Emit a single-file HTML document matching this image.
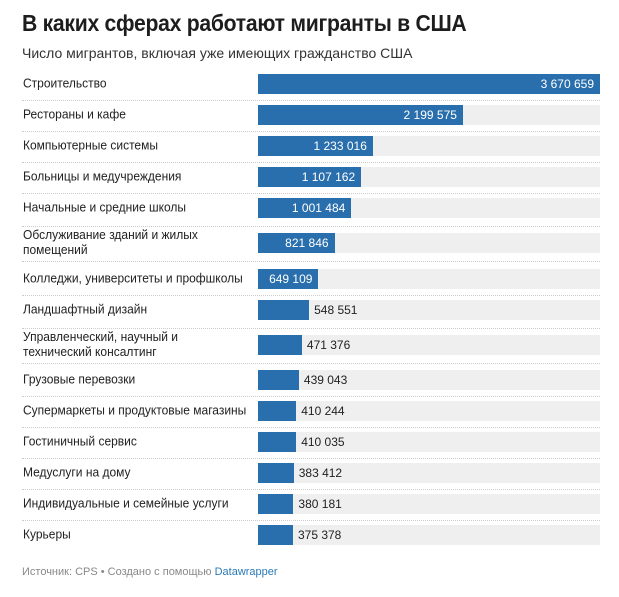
<!DOCTYPE html>
<html><head><meta charset="utf-8"><style>
body{margin:0;background:#fff;width:619px;height:597px;position:relative;font-family:"Liberation Sans","DejaVu Sans",sans-serif;color:#1d1d1d;overflow:hidden}
.t{position:absolute;left:22px;top:10px;font-size:23px;font-weight:bold;letter-spacing:-0.3px;transform:scaleX(0.92);transform-origin:left top;white-space:nowrap}
.s{position:absolute;left:22px;top:45px;font-size:14px;color:#333}
.l{position:absolute;left:23px;font-size:12.5px;line-height:15px;transform:translateY(-50%) scaleX(0.96);transform-origin:left center;color:#222;white-space:nowrap}
.tr{position:absolute;left:258px;width:342px;height:20px;background:#efefef}
.b{position:absolute;left:258px;height:20px;background:#2a6fad}
.v{position:absolute;font-size:12px;line-height:20px}
.sep{position:absolute;left:22px;width:578px;border-top:1px dotted #ccc}
.f{position:absolute;left:22px;top:566px;font-size:11px;color:#888}
.f span{color:#2a7ab8}
</style></head><body>
<div class="t">В каких сферах работают мигранты в США</div>
<div class="s">Число мигрантов, включая уже имеющих гражданство США</div>
<div id="c"></div>
<div class="f">Источник: CPS • Создано с помощью <span>Datawrapper</span></div>
<script>
var d=[["Строительство",3670659,84],["Рестораны и кафе",2199575,115],["Компьютерные системы",1233016,146],["Больницы и медучреждения",1107162,177],["Начальные и средние школы",1001484,208],["Обслуживание зданий и жилых<br>помещений",821846,243],["Колледжи, университеты и профшколы",649109,279],["Ландшафтный дизайн",548551,310],["Управленческий, научный и<br>технический консалтинг",471376,345],["Грузовые перевозки",439043,380],["Супермаркеты и продуктовые магазины",410244,411],["Гостиничный сервис",410035,442],["Медуслуги на дому",383412,473],["Индивидуальные и семейные услуги",380181,504],["Курьеры",375378,535]];
var h="";
function f(n){return String(n).replace(/\B(?=(\d{3})+(?!\d))/g," ");}
d.forEach(function(r,i){var w=r[1]/3670659*342,c=r[2];
h+='<div class="l" style="top:'+c+'px">'+r[0]+'</div>';
h+='<div class="tr" style="top:'+(c-10)+'px"></div>';
h+='<div class="b" style="top:'+(c-10)+'px;width:'+w+'px"></div>';
if(r[1]>600000)h+='<div class="v" style="top:'+(c-10)+'px;left:'+(258+w-70)+'px;width:64px;text-align:right;color:#fff">'+f(r[1])+'</div>';
else h+='<div class="v" style="top:'+(c-10)+'px;left:'+(258+w+5)+'px;color:#222">'+f(r[1])+'</div>';
if(i<d.length-1){var y=Math.round((c+d[i+1][2])/2);h+='<div class="sep" style="top:'+y+'px"></div>';}
});
document.getElementById("c").innerHTML=h;
</script>
</body></html>
